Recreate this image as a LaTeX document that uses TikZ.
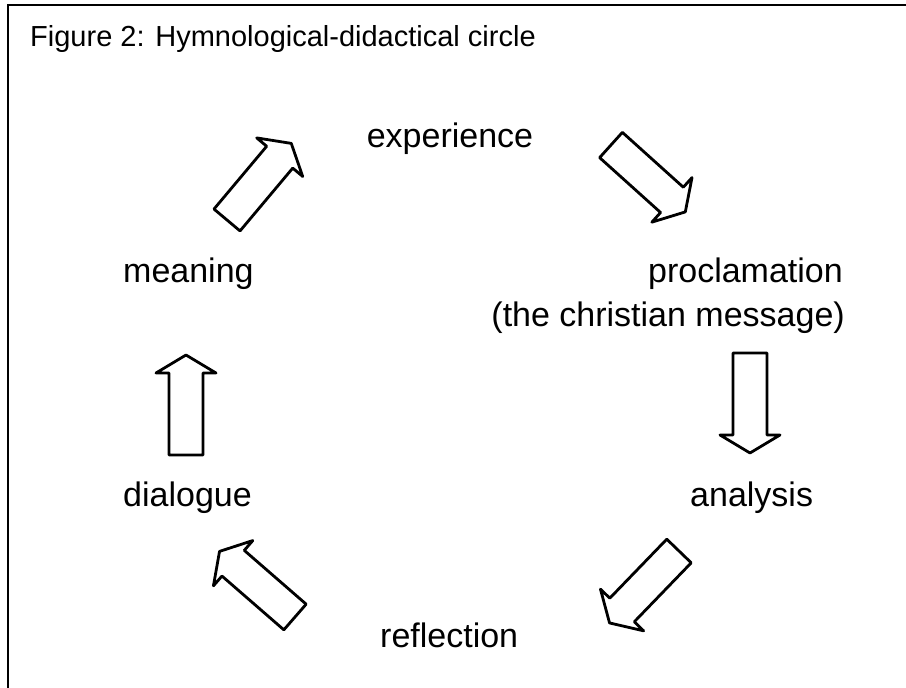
\documentclass[tikz,border=0pt]{standalone}
\usepackage{fontspec}
\setmainfont{Liberation Sans}
\begin{document}
\begin{tikzpicture}[x=1pt,y=-1pt,
  lbl/.style={inner sep=0pt, font=\fontsize{34}{40}\selectfont},
  frameline/.style={line width=2.6pt},
  barrow/.pic={\draw[line width=2.8pt, line join=round, fill=white]
     (0,-17) -- (82,-17) -- (82,-30) -- (100,0) -- (82,30) -- (82,17) -- (0,17) -- cycle;}]
\useasboundingbox (0,0) rectangle (906,688);
\coordinate (fr0) at (8,688);
\coordinate (fr1) at (8,5);
\coordinate (fr2) at (906,5);
\draw[frameline] (fr0) -- (fr1) -- (fr2);
\node[anchor=base west, inner sep=0pt, font=\fontsize{29}{34}\selectfont] (title) at (30,46) {Figure 2: Hymnological-didactical circle};
\node[lbl, anchor=base] (exp) at (450,147) {experience};
\node[lbl, anchor=base east] (proc) at (843,282) {proclamation};
\node[lbl, anchor=base east] (msg) at (845,326) {(the christian message)};
\node[lbl, anchor=base west] (ana) at (690,506) {analysis};
\node[lbl, anchor=base west] (refl) at (380,647) {reflection};
\node[lbl, anchor=base west] (dia) at (123,506) {dialogue};
\node[lbl, anchor=base west] (mea) at (123,282) {meaning};
\pic[rotate=50] at (227,220) {barrow};
\pic[rotate=-42] at (611,145) {barrow};
\pic[rotate=-90] at (750,353) {barrow};
\pic[rotate=-134] at (679,551) {barrow};
\pic[rotate=139] at (295,617) {barrow};
\pic[rotate=90] at (186,455) {barrow};
\end{tikzpicture}
\end{document}
